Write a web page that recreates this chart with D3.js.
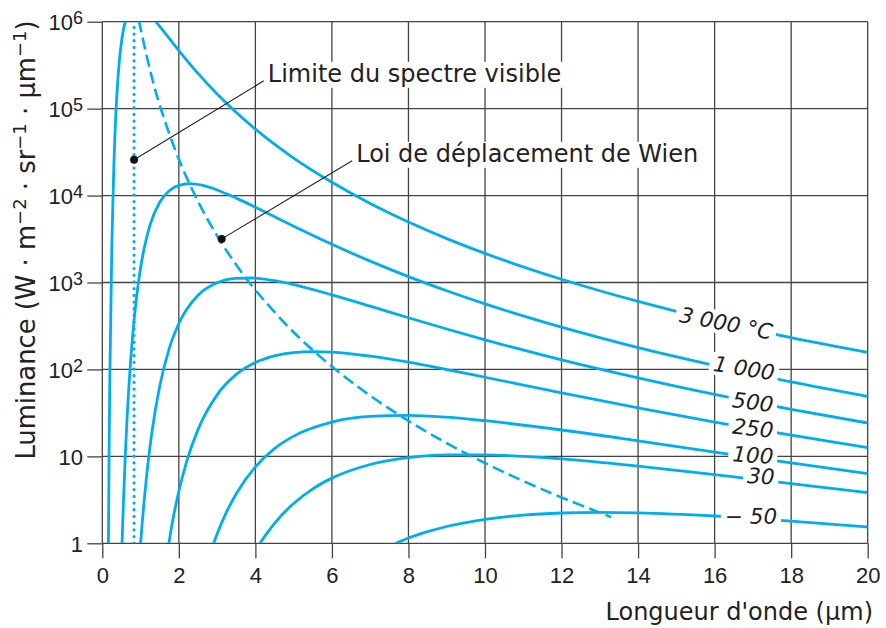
<!DOCTYPE html>
<html><head><meta charset="utf-8">
<script src="https://cdn.jsdelivr.net/npm/d3@7"></script>
<style>body{margin:0;background:#fff}svg{display:block}</style>
</head><body><svg id="c" width="886" height="628"></svg>
<script>
// ---------- data ----------
const xTicks = [0, 2, 4, 6, 8, 10, 12, 14, 16, 18, 20];
const yTicks = [1, 10, 100, 1000, 10000, 100000, 1000000];
const yTickBase = ["1", "10", "10", "10", "10", "10", "10"];
const yTickExp  = ["", "", "2", "3", "4", "5", "6"];

const curveLabels = ["3 000 °C", "1 000", "500", "250", "100", "30", "\u2212 50"];

const curve3000 = [[0.16,1],[0.18,15],[0.2,100],[0.25,2800],[0.3,21000],[0.35,80000],[0.4,196000],[0.45,370000],[0.5,580000],[0.55,800000],[0.6,1000000],[0.7,1330000],[0.885,1540000],[1.0,1490000],[1.2,1260000],[1.4,1000000],[1.6,778000],[2,465000],[2.5,254000],[3,147000],[4,58000],[5,27000],[6,14200],[7,8100],[8,4960],[9,3200],[10,2160],[12,1090],[14,605],[16,362],[18,232],[20,157]];
const curve1000 = [[0.516,1],[0.55,2.8],[0.6,10.1],[0.65,29],[0.7,69],[0.8,266],[0.9,709],[1.0,1470],[1.1,2550],[1.25,4620],[1.5,8380],[1.75,11370],[2.0,13100],[2.3,13700],[2.6,13150],[3,11600],[3.5,9350],[4,7330],[5,4440],[6,2750],[7,1760],[8,1170],[9,804],[10,568],[12,306],[14,178],[16,111],[18,72],[20,49]];
const curve500 = [[1.0,1],[1.05,1.87],[1.1,3.3],[1.2,8.8],[1.3,19.5],[1.5,64],[1.75,175],[2,338],[2.5,713],[3,993],[3.5,1118],[3.9,1127],[4.5,1049],[5,945],[6,721],[7,534],[8,393],[9,292],[10,219],[12,129],[14,80],[16,51.6],[18,34.8],[20,24.2]];
const curve250 = [[1.74,1],[1.8,1.46],[1.9,2.49],[2,3.97],[2.2,8.6],[2.5,20.3],[3,51],[3.5,87.6],[4,120],[4.5,143],[5,156],[5.5,160],[6,158],[7,142],[8,121],[9,99.7],[10,81.3],[12,53.8],[14,36.1],[16,24.8],[18,17.5],[20,12.6]];
const curve100 = [[2.91,1],[3,1.28],[3.25,2.31],[3.5,3.72],[4,7.57],[4.5,12.3],[5,17.1],[6,24.8],[7,28.8],[8,29.6],[9,28.2],[10,25.7],[12,20.1],[14,15.1],[16,11.2],[18,8.4],[20,6.34]];
const curve30 = [[4.12,1],[4.3,1.3],[4.5,1.7],[5,2.87],[5.5,4.23],[6,5.62],[7,8.06],[8,9.65],[9,10.4],[10,10.4],[11,10.0],[12,9.35],[14,7.72],[16,6.17],[18,4.86],[20,3.83]];
const curveMinus50 = [[7.67,1],[8,1.15],[8.5,1.36],[9,1.56],[10,1.89],[11,2.11],[12,2.23],[13,2.27],[14,2.24],[16,2.06],[18,1.8],[20,1.54]];

const wienLine = [[0.96,1030000],[1,838000],[1.25,275000],[1.5,110000],[2,26200],[2.5,8580],[3,3450],[3.5,1596],[4,818],[5,268],[6,108],[7,49.9],[8,25.6],[9,14.2],[10,8.38],[11,5.2],[12,3.37],[13.3,2.0]];
const visibleLimit = 0.83;

// curve label anchors (data units) and tilt
const labelX = [16.3, 16.77, 17.0, 17.0, 17.0, 17.21, 16.95];
const labelY = [342, 104, 42.3, 21.2, 10.4, 5.95, 2.06];
const labelAngle = [11, 9, 7, 6, 4, 3, 0];

// annotations: dot on the mark, end of the leader line, text
const annotations = [
  {dot:[0.83, 25800], end:[4.22, 209000], text:"Limite du spectre visible"},
  {dot:[3.12, 3175],  end:[6.53, 25100],  text:"Loi de déplacement de Wien"}
];

// ---------- drawing ----------
const svg = d3.select("#c");
const blue = "#00aeef";
const gridCol = "#444";
const plot = {left:102.3, right:867.7, top:21.7, bottom:543.3};
const x = d3.scaleLinear().domain([0, 20]).range([plot.left, plot.right]);
const y = d3.scaleLog().domain([1, 1e6]).range([plot.bottom, plot.top]);
const textFont = "'DejaVu Sans', sans-serif";
const numFont = "'Liberation Sans', Arial, sans-serif";

svg.append("defs").append("clipPath").attr("id", "clip")
  .append("rect").attr("x", plot.left).attr("y", plot.top)
  .attr("width", plot.right - plot.left).attr("height", plot.bottom - plot.top);

// grid
const grid = svg.append("g").attr("stroke", gridCol).attr("stroke-width", 1.3);
grid.selectAll("line.v").data(xTicks).join("line").attr("class", "v")
  .attr("x1", d => x(d)).attr("x2", d => x(d)).attr("y1", plot.top).attr("y2", plot.bottom);
grid.selectAll("line.h").data(yTicks).join("line").attr("class", "h")
  .attr("y1", d => y(d)).attr("y2", d => y(d)).attr("x1", plot.left).attr("x2", plot.right);

// axes
const xAxis = svg.append("g").attr("transform", `translate(0,${plot.bottom})`)
  .call(d3.axisBottom(x).tickValues(xTicks).tickSize(15).tickPadding(9).tickFormat(d3.format("d")));
xAxis.select(".domain").remove();
xAxis.selectAll(".tick line").attr("stroke", gridCol).attr("stroke-width", 1.3);
xAxis.selectAll(".tick text").attr("font-family", numFont).attr("font-size", 22).attr("fill", "#222");

const yAxis = svg.append("g").attr("transform", `translate(${plot.left},0)`)
  .call(d3.axisLeft(y).tickValues(yTicks).tickSize(15).tickPadding(4.3).tickFormat(() => ""));
yAxis.select(".domain").remove();
yAxis.selectAll(".tick line").attr("stroke", gridCol).attr("stroke-width", 1.3);
yAxis.selectAll(".tick text").each(function(d, i) {
  const t = d3.select(this).attr("font-family", numFont).attr("font-size", 22).attr("fill", "#222").attr("dy", "0.36em");
  t.append("tspan").text(yTickBase[i]);
  if (yTickExp[i]) t.append("tspan").attr("font-size", 18).attr("dy", -6).text(yTickExp[i]);
});

// curves
const line = d3.line().x(d => x(d[0])).y(d => y(d[1])).curve(d3.curveMonotoneX);
const curves = [curve3000, curve1000, curve500, curve250, curve100, curve30, curveMinus50];
const cg = svg.append("g").attr("clip-path", "url(#clip)");
cg.selectAll("path.curve").data(curves).join("path").attr("class", "curve")
  .attr("d", line).attr("fill", "none").attr("stroke", blue).attr("stroke-width", 2.8);
cg.append("path").datum(wienLine).attr("d", d3.line().x(d => x(d[0])).y(d => y(d[1])).curve(d3.curveCatmullRom.alpha(0.5)))
  .attr("fill", "none").attr("stroke", blue).attr("stroke-width", 2.6).attr("stroke-dasharray", "12 5.5");
cg.append("line").attr("x1", x(visibleLimit)).attr("x2", x(visibleLimit)).attr("y1", y(1)).attr("y2", y(1e6))
  .attr("stroke", blue).attr("stroke-width", 3.2).attr("stroke-linecap", "round").attr("stroke-dasharray", "0.1 6.6");

// curve labels
const lg = svg.append("g");
curveLabels.forEach((lab, i) => {
  const g = lg.append("g").attr("transform", `translate(${x(labelX[i])},${y(labelY[i])}) rotate(${labelAngle[i]})`);
  const r = g.append("rect").attr("fill", "#fff");
  const t = g.append("text").attr("text-anchor", "middle").attr("dy", "0.36em")
    .attr("font-family", textFont).attr("font-style", "italic").attr("font-size", 21.5).attr("fill", "#1e1e1e").text(lab);
  const b = t.node().getBBox();
  r.attr("x", b.x - 4).attr("y", b.y + 1).attr("width", b.width + 8).attr("height", b.height - 2);
});

// annotations
const ag = svg.append("g");
annotations.forEach(a => {
  const t = ag.append("text").attr("x", x(a.end[0]) + 4).attr("y", y(a.end[1]) + 1)
    .attr("font-family", textFont).attr("font-size", 24).attr("fill", "#222").text(a.text);
  const b = t.node().getBBox();
  ag.insert("rect", "text").attr("x", b.x - 3).attr("y", b.y + 2).attr("width", b.width + 6).attr("height", b.height - 2).attr("fill", "#fff");
  ag.append("line").attr("x1", x(a.dot[0])).attr("y1", y(a.dot[1])).attr("x2", x(a.end[0])).attr("y2", y(a.end[1]))
    .attr("stroke", "#222").attr("stroke-width", 1.1);
  ag.append("circle").attr("cx", x(a.dot[0])).attr("cy", y(a.dot[1])).attr("r", 4).attr("fill", "#111");
});

// axis titles
svg.append("text").attr("x", 873).attr("y", 620).attr("text-anchor", "end")
  .attr("font-family", textFont).attr("font-size", 24).attr("fill", "#222").text("Longueur d'onde (µm)");

const yt = svg.append("text").attr("transform", "translate(35,240) rotate(-90)").attr("text-anchor", "middle")
  .attr("font-family", textFont).attr("font-size", 25.8).attr("fill", "#222");
const ytParts = [["Luminance (W · m", 0], ["\u22122", 1], [" · sr", 0], ["\u22121", 1], [" · µm", 0], ["\u22121", 1], [")", 0]];
let prevSup = 0;
ytParts.forEach(([s, sup]) => {
  const ts = yt.append("tspan").text(s);
  if (sup) ts.attr("font-size", 18).attr("dy", prevSup ? 0 : -9);
  else ts.attr("dy", prevSup ? 9 : 0);
  prevSup = sup;
});
</script></body></html>
